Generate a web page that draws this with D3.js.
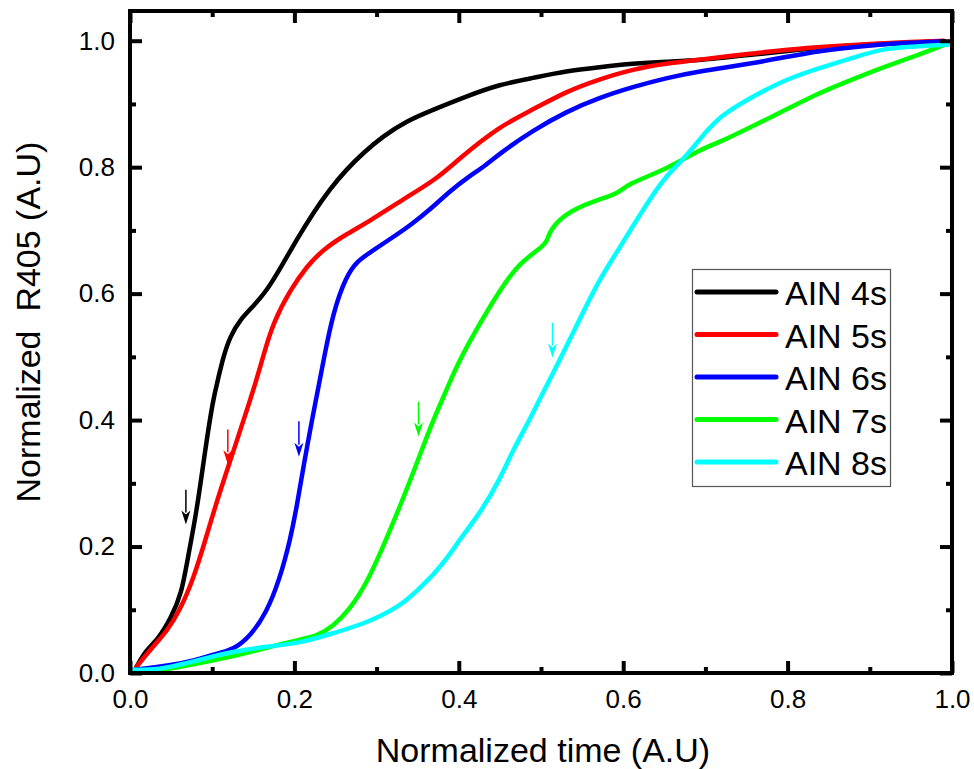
<!DOCTYPE html>
<html>
<head>
<meta charset="utf-8">
<script src="https://cdn.jsdelivr.net/npm/d3@7/dist/d3.min.js"></script>
<style>
  html, body { margin: 0; padding: 0; background: #fff; }
  svg { display: block; font-family: "Liberation Sans", Arial, sans-serif; }
</style>
</head>
<body>
<svg id="chart" width="974" height="769"></svg>
<script>
// ---------------- data ----------------
const seriesNames = ["AIN 4s", "AIN 5s", "AIN 6s", "AIN 7s", "AIN 8s"];
const seriesColors = ["#000000", "#ff0000", "#0000ff", "#00ff00", "#00ffff"];

const ain4s = [[0.008,0.01],[0.02,0.037],[0.034,0.053],[0.05,0.087],[0.063,0.127],[0.07,0.18],[0.081,0.254],[0.092,0.358],[0.101,0.432],[0.107,0.464],[0.113,0.498],[0.122,0.533],[0.134,0.559],[0.150,0.580],[0.166,0.604],[0.182,0.638],[0.203,0.686],[0.223,0.728],[0.243,0.765],[0.263,0.796],[0.284,0.823],[0.308,0.849],[0.336,0.873],[0.369,0.891],[0.409,0.912],[0.45,0.931],[0.490,0.941],[0.531,0.952],[0.571,0.958],[0.612,0.964],[0.652,0.967],[0.693,0.969],[0.75,0.977],[0.8,0.984],[0.85,0.99],[0.9,0.994],[0.95,0.997],[0.99,0.999]];

const ain5s = [[0.008,0.01],[0.028,0.042],[0.045,0.066],[0.061,0.10],[0.077,0.148],[0.093,0.216],[0.105,0.269],[0.121,0.332],[0.141,0.411],[0.154,0.464],[0.162,0.501],[0.174,0.554],[0.195,0.606],[0.215,0.643],[0.235,0.670],[0.263,0.694],[0.292,0.715],[0.332,0.749],[0.373,0.781],[0.399,0.812],[0.45,0.865],[0.490,0.891],[0.531,0.920],[0.571,0.939],[0.612,0.955],[0.652,0.964],[0.693,0.970],[0.75,0.979],[0.8,0.986],[0.85,0.991],[0.9,0.995],[0.95,0.998],[0.99,1.0]];

const ain6s = [[0.005,0.005],[0.05,0.012],[0.08,0.02],[0.101,0.029],[0.126,0.037],[0.146,0.058],[0.166,0.095],[0.182,0.148],[0.195,0.211],[0.203,0.264],[0.211,0.327],[0.223,0.411],[0.231,0.464],[0.236,0.498],[0.247,0.570],[0.263,0.628],[0.277,0.652],[0.292,0.665],[0.316,0.686],[0.340,0.707],[0.365,0.733],[0.389,0.762],[0.413,0.786],[0.432,0.802],[0.45,0.822],[0.490,0.858],[0.531,0.888],[0.571,0.910],[0.612,0.927],[0.652,0.941],[0.693,0.952],[0.758,0.964],[0.8,0.975],[0.839,0.984],[0.88,0.99],[0.92,0.995],[0.96,0.997],[0.99,0.999]];

const ain7s = [[0.005,0.002],[0.045,0.005],[0.085,0.016],[0.126,0.026],[0.166,0.04],[0.207,0.053],[0.227,0.058],[0.247,0.074],[0.267,0.10],[0.288,0.142],[0.308,0.20],[0.328,0.262],[0.349,0.332],[0.369,0.401],[0.385,0.447],[0.397,0.485],[0.421,0.543],[0.45,0.606],[0.474,0.649],[0.503,0.675],[0.508,0.685],[0.511,0.701],[0.531,0.728],[0.563,0.746],[0.596,0.759],[0.604,0.773],[0.652,0.796],[0.693,0.828],[0.717,0.839],[0.758,0.865],[0.798,0.891],[0.839,0.918],[0.879,0.939],[0.920,0.960],[0.960,0.978],[0.998,0.997]];

const ain8s = [[0.002,0.005],[0.024,0.005],[0.045,0.008],[0.085,0.021],[0.126,0.034],[0.166,0.042],[0.207,0.047],[0.247,0.063],[0.288,0.079],[0.328,0.105],[0.349,0.13],[0.369,0.155],[0.389,0.187],[0.401,0.211],[0.426,0.253],[0.45,0.306],[0.466,0.353],[0.482,0.390],[0.498,0.432],[0.515,0.475],[0.531,0.517],[0.551,0.570],[0.571,0.622],[0.592,0.665],[0.612,0.707],[0.632,0.749],[0.652,0.786],[0.673,0.812],[0.693,0.844],[0.717,0.881],[0.758,0.912],[0.798,0.939],[0.839,0.957],[0.879,0.973],[0.920,0.989],[0.96,0.991],[0.998,0.994]];

// arrow annotations: x position, tip y, tail y (data units)
const arrowX    = [0.068, 0.119, 0.2055, 0.351, 0.514];
const arrowTipY = [0.235, 0.330, 0.342, 0.374, 0.499];
const arrowTailY= [0.290, 0.385, 0.398, 0.429, 0.554];

const xTicks = [0, 0.2, 0.4, 0.6, 0.8, 1.0];
const yTicks = [0, 0.2, 0.4, 0.6, 0.8, 1.0];
const xMinor = [0.1, 0.3, 0.5, 0.7, 0.9];
const yMinor = [0.1, 0.3, 0.5, 0.7, 0.9];

const xTitle = "Normalized time (A.U)";
const yTitle = "Normalized  R405 (A.U)";

// ---------------- layout ----------------
const L = 130, R = 952, T = 11, B = 673;
const svg = d3.select("#chart");
const x = d3.scaleLinear().domain([0, 1]).range([L, R]);
const y = d3.scaleLinear().domain([0, 1.047]).range([B, T]);

const allSeries = [ain4s, ain5s, ain6s, ain7s, ain8s];

// curves
const line = d3.line().x(d => x(d[0])).y(d => y(d[1])).curve(d3.curveBasis);
const plot = svg.append("g");
plot.append("clipPath").attr("id", "clip").append("rect")
  .attr("x", L).attr("y", T).attr("width", R - L).attr("height", B - T);
plot.selectAll("path.series").data(allSeries).join("path")
  .attr("class", "series")
  .attr("clip-path", "url(#clip)")
  .attr("d", line)
  .attr("fill", "none")
  .attr("stroke", (d, i) => seriesColors[i])
  .attr("stroke-width", 4.5)
  .attr("stroke-linejoin", "round")
  .attr("stroke-linecap", "round");

// arrows
const arrows = svg.append("g");
arrowX.forEach((ax, i) => {
  const px = x(ax), tip = y(arrowTipY[i]), tail = y(arrowTailY[i]);
  const headLen = 14, headW = 4.5;
  arrows.append("line")
    .attr("x1", px).attr("x2", px).attr("y1", tail).attr("y2", tip - headLen + 2)
    .attr("stroke", seriesColors[i]).attr("stroke-width", 1.5);
  arrows.append("path")
    .attr("d", `M${px},${tip} L${px - headW},${tip - headLen} L${px},${tip - headLen + 4} L${px + headW},${tip - headLen} Z`)
    .attr("fill", seriesColors[i]);
});

// axes
function styleAxis(g) {
  g.select(".domain").remove();
  g.selectAll(".tick line").attr("stroke", "#000").attr("stroke-width", 4);
  g.selectAll(".tick text").attr("fill", "#000").style("font-size", "26px")
    .style("font-family", "'Liberation Sans', Arial, sans-serif");
}
const fmt = d3.format(".1f");
svg.append("g").attr("transform", `translate(0,${B})`)
  .call(d3.axisBottom(x).tickValues(xTicks).tickSize(-12).tickPadding(17).tickFormat(fmt))
  .call(styleAxis);
svg.append("g").attr("transform", `translate(0,${B})`)
  .call(d3.axisBottom(x).tickValues(xMinor).tickSize(-6).tickFormat(""))
  .call(styleAxis);
svg.append("g").attr("transform", `translate(${L},0)`)
  .call(d3.axisLeft(y).tickValues(yTicks).tickSize(-12).tickPadding(15).tickFormat(fmt))
  .call(styleAxis);
svg.append("g").attr("transform", `translate(${L},0)`)
  .call(d3.axisLeft(y).tickValues(yMinor).tickSize(-6).tickFormat(""))
  .call(styleAxis);
svg.append("g").attr("transform", `translate(0,${T})`)
  .call(d3.axisTop(x).tickValues(xTicks).tickSize(-12).tickFormat(""))
  .call(styleAxis);
svg.append("g").attr("transform", `translate(0,${T})`)
  .call(d3.axisTop(x).tickValues(xMinor).tickSize(-6).tickFormat(""))
  .call(styleAxis);
svg.append("g").attr("transform", `translate(${R},0)`)
  .call(d3.axisRight(y).tickValues(yTicks).tickSize(-12).tickFormat(""))
  .call(styleAxis);
svg.append("g").attr("transform", `translate(${R},0)`)
  .call(d3.axisRight(y).tickValues(yMinor).tickSize(-6).tickFormat(""))
  .call(styleAxis);

// frame
svg.append("rect").attr("x", L).attr("y", T).attr("width", R - L).attr("height", B - T)
  .attr("fill", "none").attr("stroke", "#000").attr("stroke-width", 4);

// titles
svg.append("text").attr("x", 543).attr("y", 762).attr("text-anchor", "middle")
  .style("font-size", "34px").attr("fill", "#000").text(xTitle);
svg.append("text").attr("transform", "translate(40,322) rotate(-90)").attr("text-anchor", "middle")
  .style("font-size", "34px").style("white-space", "pre").attr("xml:space", "preserve")
  .attr("fill", "#000").text(yTitle);

// legend
const lg = svg.append("g");
lg.append("rect").attr("x", 692.5).attr("y", 269.5).attr("width", 198).attr("height", 217)
  .attr("fill", "#fff").attr("stroke", "#555").attr("stroke-width", 1.2);
seriesNames.forEach((name, i) => {
  const ly = 292 + i * 42.5;
  lg.append("line").attr("x1", 697).attr("x2", 776).attr("y1", ly).attr("y2", ly)
    .attr("stroke", seriesColors[i]).attr("stroke-width", 5).attr("stroke-linecap", "round");
  lg.append("text").attr("x", 785).attr("y", ly + 13)
    .style("font-size", "34px").attr("fill", "#000").text(name);
});
</script>
</body>
</html>
